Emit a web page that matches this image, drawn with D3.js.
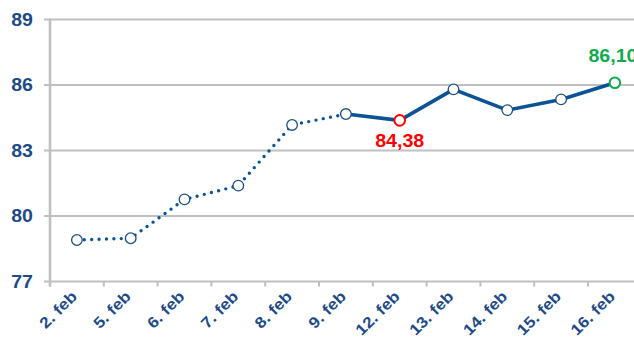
<!DOCTYPE html>
<html>
<head>
<meta charset="utf-8">
<script src="https://cdn.jsdelivr.net/npm/d3@7"></script>
<style>
  html, body { margin: 0; padding: 0; background: #fff; }
  svg { display: block; }
  text { font-family: "Liberation Sans", Arial, sans-serif; font-weight: bold; }
</style>
</head>
<body>
<svg id="chart" width="634" height="341"></svg>
<script>
// Daily index values
const dates = ["2. feb", "5. feb", "6. feb", "7. feb", "8. feb", "9. feb",
               "12. feb", "13. feb", "14. feb", "15. feb", "16. feb"];
const values = [78.90, 78.98, 80.76, 81.39, 84.17, 84.67,
                84.38, 85.80, 84.85, 85.34, 86.10];
const yTicks = [77, 80, 83, 86, 89];
// First part of the series is drawn dotted, the rest solid
const dottedUntil = "9. feb";
// Highlighted points: low (red) and latest (green)
const lowDate = "12. feb";
const lastDate = "16. feb";

const W = 634, H = 341;
const plotLeft = 50, plotTop = 19.5, plotBottom = 281.5;
const bandW = 53.8;
const wide = 1.12; // horizontal stretch applied to labels

const svg = d3.select("#chart");

const x = d3.scaleBand()
  .domain(dates)
  .range([plotLeft, plotLeft + bandW * dates.length])
  .paddingInner(0).paddingOuter(0);

const y = d3.scaleLinear().domain([77, 89]).range([plotBottom, plotTop]);

const navy = "#1f4b85";
const lineBlue = "#0b5394";
const grey = "#c0c0c0";
const red = "#ff0000";
const green = "#12aa50";

// horizontal grid lines with short ticks on the left
svg.append("g")
  .selectAll("line")
  .data(yTicks)
  .join("line")
  .attr("x1", plotLeft - 6)
  .attr("x2", W)
  .attr("y1", d => y(d))
  .attr("y2", d => y(d))
  .attr("stroke", grey)
  .attr("stroke-width", 2.2);

// vertical axis line
svg.append("line")
  .attr("x1", plotLeft).attr("x2", plotLeft)
  .attr("y1", y(89) - 1).attr("y2", plotBottom + 5)
  .attr("stroke", grey).attr("stroke-width", 2.6);

// category tick marks below the x axis
const boundaries = d3.range(dates.length + 1).map(i => plotLeft + bandW * i);
svg.append("g")
  .selectAll("line")
  .data(boundaries)
  .join("line")
  .attr("x1", d => d).attr("x2", d => d)
  .attr("y1", plotBottom).attr("y2", plotBottom + 5)
  .attr("stroke", grey).attr("stroke-width", 2);

// y tick labels
svg.append("g")
  .selectAll("text")
  .data(yTicks)
  .join("text")
  .attr("transform", d => `translate(33,${y(d) + 6}) scale(${wide},1)`)
  .attr("text-anchor", "end")
  .attr("fill", navy)
  .style("font-size", "17.5px")
  .text(d => d);

// x tick labels, rotated
svg.append("g")
  .selectAll("text")
  .data(dates)
  .join("text")
  .attr("transform", d => `translate(${x(d) + x.bandwidth() / 2 + 1},${plotBottom + 16}) rotate(-45) scale(${wide},1)`)
  .attr("text-anchor", "end")
  .attr("fill", navy)
  .style("font-size", "15.5px")
  .text(d => d);

const pts = dates.map((d, i) => ({ date: d, value: values[i] }));
const splitIdx = dates.indexOf(dottedUntil);
const line = d3.line()
  .x(d => x(d.date) + x.bandwidth() / 2)
  .y(d => y(d.value));

// dotted segment
svg.append("path")
  .datum(pts.slice(0, splitIdx + 1))
  .attr("d", line)
  .attr("fill", "none")
  .attr("stroke", lineBlue)
  .attr("stroke-width", 3.4)
  .attr("stroke-linecap", "round")
  .attr("stroke-dasharray", "0 7.4");

// solid segment
svg.append("path")
  .datum(pts.slice(splitIdx))
  .attr("d", line)
  .attr("fill", "none")
  .attr("stroke", lineBlue)
  .attr("stroke-width", 3.6)
  .attr("stroke-linejoin", "round");

// markers
svg.append("g")
  .selectAll("circle")
  .data(pts)
  .join("circle")
  .attr("cx", d => x(d.date) + x.bandwidth() / 2)
  .attr("cy", d => y(d.value))
  .attr("r", 5.3)
  .attr("fill", "#fff")
  .attr("stroke", d => d.date === lowDate ? red : d.date === lastDate ? green : "#1f4e79")
  .attr("stroke-width", d => (d.date === lowDate || d.date === lastDate) ? 2 : 1.3);

// value labels for highlighted points
const fmt = v => v.toFixed(2).replace(".", ",");
const low = pts.find(d => d.date === lowDate);
const last = pts.find(d => d.date === lastDate);

svg.append("text")
  .attr("transform", `translate(${x(low.date) + x.bandwidth() / 2},${y(low.value) + 26.5}) scale(1.05,1)`)
  .attr("text-anchor", "middle")
  .attr("fill", red)
  .style("font-size", "18.7px")
  .text(fmt(low.value));

svg.append("text")
  .attr("transform", `translate(${x(last.date) + x.bandwidth() / 2 - 26.5},${y(last.value) - 20.5}) scale(1.05,1)`)
  .attr("text-anchor", "start")
  .attr("fill", green)
  .style("font-size", "18.7px")
  .text(fmt(last.value));
</script>
</body>
</html>
